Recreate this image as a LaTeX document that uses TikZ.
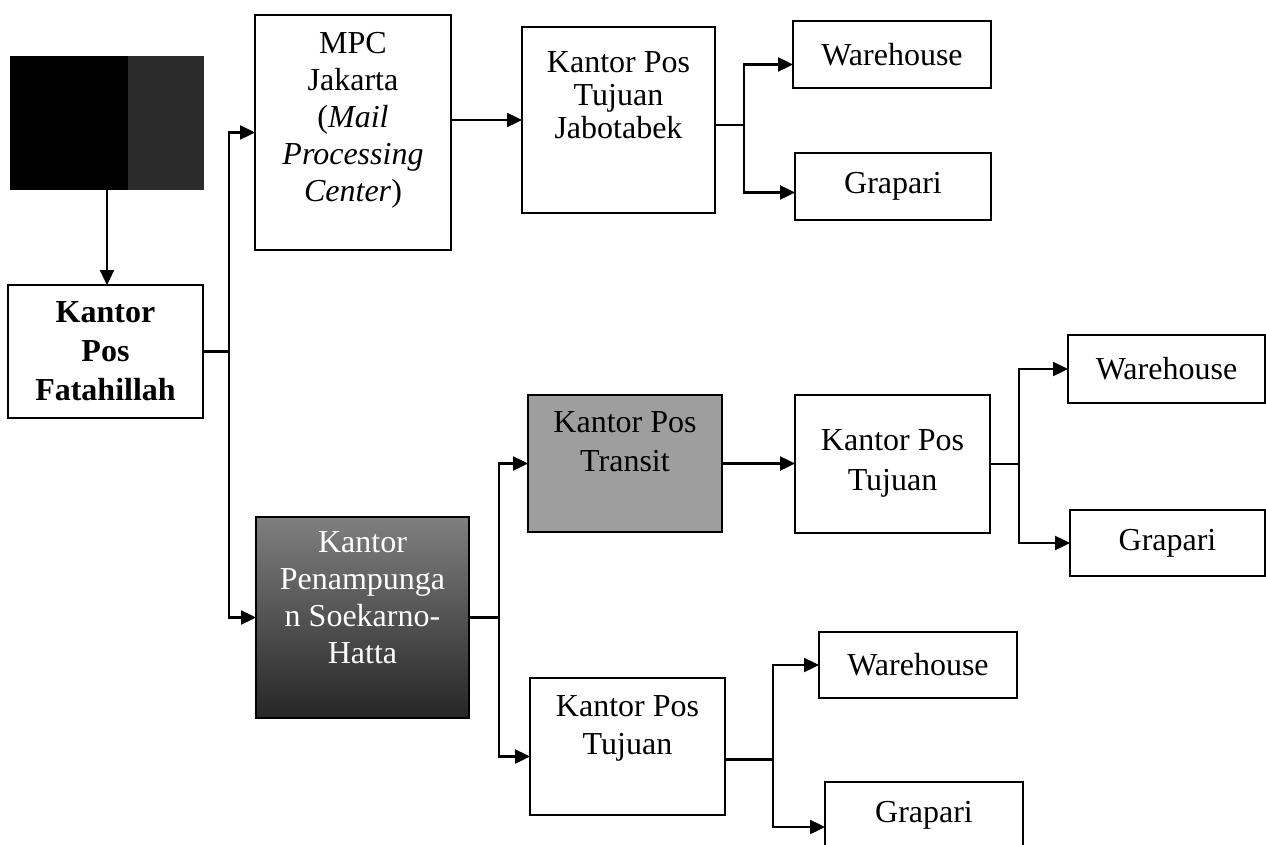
\documentclass[tikz,border=0pt]{standalone}
\usepackage{fontspec}
\setmainfont{Liberation Serif}
\usetikzlibrary{arrows.meta,calc}
\newcommand{\bxtext}[5]{\parbox[c][#2][t]{#1}{\centering\fontsize{32}{#4}\selectfont\vspace*{#3}#5\par}}
\tikzset{
  boxn/.style={draw, line width=2.2pt, inner sep=0pt, outer sep=0pt},
  onel/.style={boxn, font=\fontsize{32}{37}\selectfont},
  ln/.style={line width=2.4pt},
  arr/.style={ln, -{Triangle[length=15pt,width=14pt]}}
}
\begin{document}
\begin{tikzpicture}[x=1pt,y=-1pt]
\useasboundingbox (0,0) rectangle (1266,845);
\fill[white] (0,0) rectangle (1266,845);

% obscured image box
\node[fill=black, inner sep=0pt, minimum width=194pt, minimum height=134pt] (img) at (107,123) {};
\fill[black!83] ($(img.north west)!0.61!(img.north east)$) rectangle (img.south east);

% nodes
\node[boxn] (fat) at (105.5,351.5) {\bxtext{195pt}{133pt}{0pt}{39pt}{\vfill\bfseries Kantor\\Pos\\Fatahillah\vfill}};
\node[boxn] (mpc) at (353,132.5) {\bxtext{196pt}{235pt}{17pt}{37pt}{MPC\\Jakarta\\(\textit{Mail}\\\textit{Processing}\\\textit{Center})}};
\node[boxn] (jab) at (618.5,120) {\bxtext{193pt}{186pt}{25pt}{33pt}{Kantor Pos\\Tujuan\\Jabotabek}};
\node[onel, minimum width=198pt, minimum height=67pt] (wh1) at (892,54.5) {Warehouse};
\node[onel, minimum width=196pt, minimum height=67pt] (gr1) at (893,186.5) {Grapari};

\node[boxn, top color=black!50, bottom color=black!85, text=white] (pen) at (362.5,617.5) {\bxtext{213pt}{201pt}{15pt}{37pt}{Kantor\\Penampunga\\n Soekarno-\\Hatta}};
\node[boxn, fill=black!38] (tra) at (625,463.5) {\bxtext{194pt}{137pt}{17pt}{39pt}{Kantor Pos\\Transit}};
\node[boxn] (kpt1) at (892.5,464) {\bxtext{195pt}{138pt}{35pt}{40pt}{Kantor Pos\\Tujuan}};
\node[onel, minimum width=197pt, minimum height=68pt] (wh2) at (1166.5,369) {Warehouse};
\node[onel, minimum width=195pt, minimum height=66pt] (gr2) at (1167.5,543) {Grapari};
\node[boxn] (kpt2) at (627.5,746.5) {\bxtext{195pt}{137pt}{18pt}{38pt}{Kantor Pos\\Tujuan}};
\node[onel, minimum width=198pt, minimum height=66pt] (wh3) at (918,665) {Warehouse};
\node[onel, minimum width=198pt, minimum height=66pt] (gr3) at (924,815) {Grapari};

% bus x positions
\coordinate (b1x) at (229,0);
\coordinate (b2x) at (744,0);
\coordinate (b3x) at (499,0);
\coordinate (b4x) at (1019,0);
\coordinate (b5x) at (773,0);

% connectors
\draw[arr] (img.south) -- (img.south |- fat.north);

\coordinate (b1) at (fat.east -| b1x);
\draw[ln] (fat.east) -- (b1);
\draw[arr] (b1) |- (mpc.west);
\draw[arr] (b1) |- (pen.west);

\draw[arr] (mpc.east |- jab.west) -- (jab.west);

\coordinate (jo) at ([yshift=-5pt]jab.east);
\coordinate (b2) at (jo -| b2x);
\draw[ln] (jo) -- (b2);
\draw[arr] (b2) |- ([yshift=-10pt]wh1.west);
\draw[arr] (b2) |- ([yshift=-6pt]gr1.west);

\coordinate (b3) at (pen.east -| b3x);
\draw[ln] (pen.east) -- (b3);
\draw[arr] (b3) |- (tra.west);
\draw[arr] (b3) |- ([yshift=-10pt]kpt2.west);

\draw[arr] (tra.east) -- (tra.east -| kpt1.west);

\coordinate (b4) at (kpt1.east -| b4x);
\draw[ln] (kpt1.east) -- (b4);
\draw[arr] (b4) |- (wh2.west);
\draw[arr] (b4) |- (gr2.west);

\coordinate (ko) at ([yshift=-13pt]kpt2.east);
\coordinate (b5) at (ko -| b5x);
\draw[ln] (ko) -- (b5);
\draw[arr] (b5) |- (wh3.west);
\draw[arr] (b5) |- ([yshift=-12pt]gr3.west);
\end{tikzpicture}
\end{document}
